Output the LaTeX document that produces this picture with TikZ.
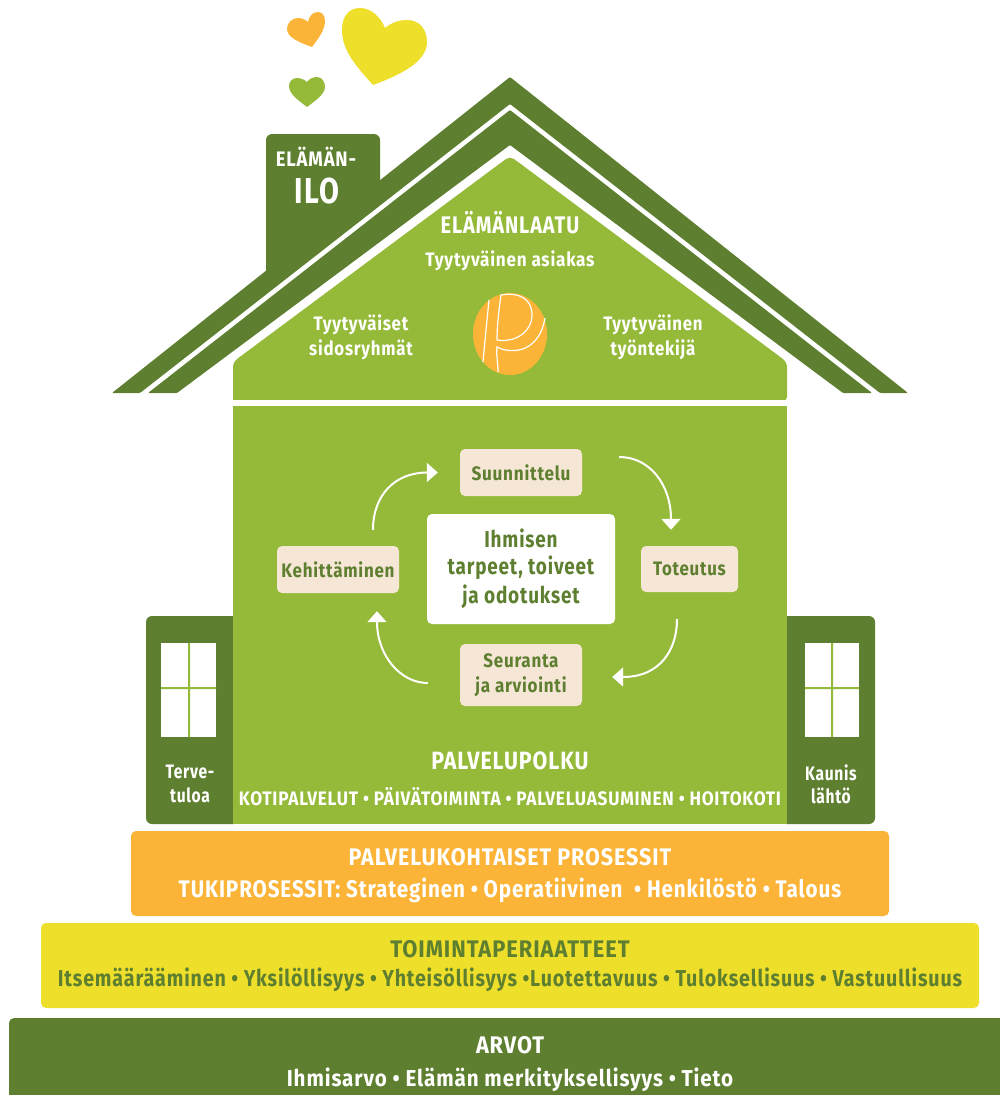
\documentclass[tikz,border=0pt]{standalone}
\usepackage{fontspec}
\usepackage{graphicx}
\usetikzlibrary{arrows.meta,calc}
\setmainfont{Fira Sans}[FakeStretch=0.8,LetterSpace=3.5]
\definecolor{dk}{HTML}{5F7F30}
\definecolor{lt}{HTML}{95BA39}
\definecolor{org}{HTML}{FBB438}
\definecolor{yel}{HTML}{EEDF2B}
\definecolor{bge}{HTML}{F5E6D6}
\newcommand{\fs}[1]{\fontsize{#1}{#1}\selectfont\bfseries}
\newcommand{\sx}[2]{\scalebox{#1}[1]{#2}}
\tikzset{x=1pt,y=-1pt,
 lab/.style={inner sep=0,align=center,white},
 glab/.style={inner sep=0,align=center,text=dk},
 bx/.style={fill=bge,rounded corners=5pt,inner sep=0},
 flow/.style={draw=white,line width=2pt,-{Triangle[length=11pt,width=19pt]}}}
\begin{document}
\begin{tikzpicture}
\useasboundingbox (0,0) rectangle (1000,1095);
\fill[white] (0,0) rectangle (1000,1095);
% hearts
\fill[yel] (373,85) .. controls (355,65) and (342,50) .. (342,30) .. controls (342,15) and (350,8) .. (360,8) .. controls (372,8) and (381,18) .. (385,28) .. controls (392,22) and (400,20) .. (407,20) .. controls (420,20) and (427,30) .. (427,42) .. controls (427,62) and (400,75) .. (373,85) -- cycle;
\fill[org] (312,47) .. controls (298,42) and (287,37) .. (287,29) .. controls (287,22) and (293,18) .. (298,18) .. controls (302,18) and (306,20) .. (308,22) .. controls (309,16) and (313,12) .. (318,12) .. controls (323,12) and (325,17) .. (325,21) .. controls (325,30) and (318,39) .. (312,47) -- cycle;
\fill[lt] (307,107) .. controls (298,100) and (289,94) .. (289,86) .. controls (289,81) and (293,78) .. (297,78) .. controls (301,78) and (305,80) .. (307,82) .. controls (309,79) and (313,77) .. (317,77) .. controls (322,77) and (325,82) .. (325,87) .. controls (325,94) and (315,101) .. (307,107) -- cycle;
% chimney
\fill[dk,rounded corners=6pt] (266,290) -- (266,134) -- (380,134) -- (380,200) -- cycle;
% roof
\fill[dk] (112,393) [rounded corners=1pt] -- (510,77) -- (908,393) -- (880,393) -- (510,104) -- (140,393) -- cycle;
\fill[dk] (148,393) [rounded corners=1pt] -- (510,110) -- (872,393) -- (843,393) -- (510,145) -- (177,393) -- cycle;
% gable
\fill[lt,rounded corners=5pt] (233,402) -- (233,362) -- (510,156) -- (787,362) -- (787,402) [sharp corners] -- cycle;
\fill[white] (225,400) rectangle (795,406);
% doors
\fill[dk,rounded corners=6pt] (240,616) -- (146,616) -- (146,824) -- (240,824) -- cycle;
\fill[dk,rounded corners=6pt] (780,616) -- (875,616) -- (875,824) -- (780,824) -- cycle;
\fill[lt] (233,406) rectangle (787,824);
\fill[white] (161,643) rectangle (216,737);
\fill[white] (805,643) rectangle (859,737);
\fill[lt] (188,643) rectangle (190,737) (161,687) rectangle (216,689);
\fill[lt] (831,643) rectangle (833,737) (805,687) rectangle (859,689);
% logo
\fill[org] (510,334) ellipse [x radius=37,y radius=41];
\draw[white,line width=1.2pt] (489,300) .. controls (487,320) and (485,340) .. (483,362);
\draw[white,line width=1.2pt] (498,372) .. controls (498,362) and (496,355) .. (497,347) .. controls (505,352) and (538,358) .. (545,318);
\draw[white,line width=1.2pt] (497,340) .. controls (497,325) and (499,310) .. (501,295) .. controls (518,292) and (532,298) .. (532,315) .. controls (532,332) and (515,343) .. (497,340);
% bars
\fill[org,rounded corners=5pt] (131,831) rectangle (889,916);
\fill[yel,rounded corners=5pt] (41,923) rectangle (979,1008);
\fill[dk,rounded corners=5pt] (9,1100) -- (9,1018) -- (1010,1018) -- (1010,1100) -- cycle;
% process nodes
\node[bx,minimum width=188pt,minimum height=110pt,fill=white] (core) at (521,569) {};
\node[glab,font=\fs{23}] at (521,569) {\sx{1.03}{Ihmisen}\\[4pt]\sx{1.03}{tarpeet, toiveet}\\[4pt]\sx{1.03}{ja odotukset}};
\node[bx,minimum width=122pt,minimum height=47pt] (suun) at (521,472.5) {};
\node[glab,font=\fs{19.5}] at (suun) {\sx{1.1}{Suunnittelu}};
\node[bx,minimum width=122pt,minimum height=47pt] (keh) at (338,569.5) {};
\node[glab,font=\fs{19.5}] at (keh) {\sx{1.09}{Kehittäminen}};
\node[bx,minimum width=97pt,minimum height=46pt] (tot) at (689.5,569) {};
\node[glab,font=\fs{19.5}] at (tot) {\sx{1.08}{Toteutus}};
\node[bx,minimum width=122pt,minimum height=62pt] (seu) at (521,675) {};
\node[glab,font=\fs{19.5}] at (seu) {\sx{1.09}{Seuranta}\\[5pt]\sx{1.09}{ja arviointi}};
\draw[flow,shorten <=16pt,shorten >=22pt] ([xshift=35pt]keh.north) .. controls (373,495) and (395,472.5) .. (suun.west);
\draw[flow,shorten <=37pt,shorten >=16pt] ([yshift=15.5pt]suun.east) .. controls (650,457) and (671,485) .. ([xshift=-18.5pt]tot.north);
\draw[flow,shorten <=27pt,shorten >=30pt] ([xshift=-12.5pt]tot.south) .. controls (677,650) and (660,677) .. ([yshift=-2pt]seu.east);
\draw[flow,shorten <=32pt,shorten >=18pt] ([yshift=-8pt]seu.west) .. controls (400,683) and (377,655) .. ([xshift=39pt]keh.south);
% labels
\node[lab,font=\fs{21}] (t1) at (316,157) {\sx{1.1}{ELÄMÄN-}};
\node[lab,font=\fs{36}] (t2) at (317,191) {ILO};
\node[lab,font=\fs{24}] (t3) at (510,223) {\sx{1.04}{ELÄMÄNLAATU}};
\node[lab,font=\fs{19.5}] (t4) at (510,261) {\sx{1.1}{Tyytyväinen asiakas}};
\node[lab,font=\fs{19.5}] (t5) at (361,337) {\sx{1.08}{Tyytyväiset}\\[4pt]\sx{1.08}{sidosryhmät}};
\node[lab,font=\fs{19.5}] (t6) at (653,337) {\sx{1.08}{Tyytyväinen}\\[4pt]\sx{1.08}{työntekijä}};
\node[lab,font=\fs{25}] (t7) at (510,761) {\sx{1.07}{PALVELUPOLKU}};
\node[lab,font=\fs{19.5}] (t8) at (510,797) {\sx{1.106}{KOTIPALVELUT • PÄIVÄTOIMINTA • PALVELUASUMINEN • HOITOKOTI}};
\node[lab,font=\fs{19.5}] (t9) at (190,784) {Terve-\\[4pt]tuloa};
\node[lab,font=\fs{19.5}] (t10) at (831,784) {Kaunis\\[4pt]lähtö};
\node[lab,font=\fs{24}] (t11) at (510,857) {\sx{1.12}{PALVELUKOHTAISET PROSESSIT}};
\node[lab,font=\fs{24}] (t12) at (510,890) {\sx{1.074}{TUKIPROSESSIT: Strateginen • Operatiivinen \ • Henkilöstö • Talous}};
\node[glab,font=\fs{24}] (t13) at (510,949) {\sx{1.14}{TOIMINTAPERIAATTEET}};
\node[glab,font=\fs{23}] (t14) at (510,980) {\sx{1.068}{Itsemäärääminen • Yksilöllisyys • Yhteisöllisyys •Luotettavuus • Tuloksellisuus • Vastuullisuus}};
\node[lab,font=\fs{24}] (t15) at (510,1045) {\sx{1.13}{ARVOT}};
\node[lab,font=\fs{23}] (t16) at (510,1080) {\sx{1.12}{Ihmisarvo • Elämän merkityksellisyys • Tieto}};
\end{tikzpicture}
\end{document}
